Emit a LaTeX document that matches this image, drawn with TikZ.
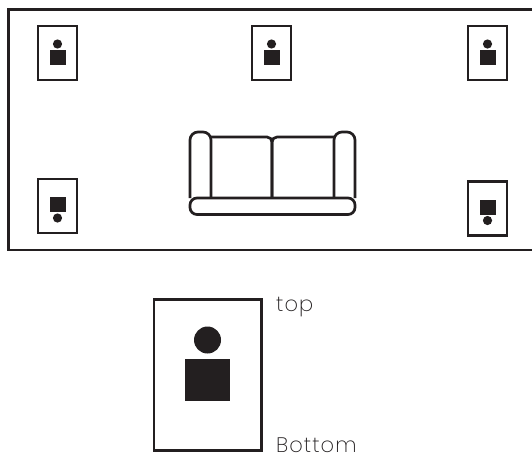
\documentclass[tikz,border=0pt]{standalone}
\usepackage{fontspec}
\usepackage{tikz}
\usetikzlibrary{positioning}
\newfontfamily\labelfont[LetterSpace=5]{Poppins ExtraLight}
\definecolor{darkline}{HTML}{231F20}
\definecolor{softtext}{HTML}{231F20}
\tikzset{
    outline/.style={draw=darkline, line width=2.7pt},
    speakerbox/.style={outline, fill=white, minimum width=39pt, minimum height=54pt, inner sep=0pt},
    labeltext/.style={anchor=base west, inner sep=0pt, text=softtext, font=\labelfont\fontsize{21}{21}\selectfont}
}
\begin{document}
\begin{tikzpicture}[x=1pt, y=-1pt]
\useasboundingbox (0,0) rectangle (532,455);
\fill[white] (0,0) rectangle (532,455);
\draw[outline] (532,9.5) -- (8.5,9.5) -- (8.5,250) -- (532,250);
\foreach \name/\x/\y in {frontleft/57.5/53, frontmid/271.5/53, frontright/487.5/53} {
    \node[speakerbox] (\name) at (\x,\y) {};
    \fill[darkline] (\x,\y-9) circle (4.6);
    \fill[darkline] (\x-8,\y-3) rectangle (\x+8,\y+12);
}
\foreach \name/\x/\y in {rearleft/57.5/206, rearright/487.5/208.5} {
    \node[speakerbox] (\name) at (\x,\y) {};
    \fill[darkline] (\x-8,\y-9) rectangle (\x+8,\y+6);
    \fill[darkline] (\x,\y+12) circle (4.6);
}
\draw[outline, rounded corners=8pt] (190,198) -- (190,132) -- (211,132) -- (211,198);
\draw[outline, rounded corners=8pt] (334,198) -- (334,132) -- (355,132) -- (355,198);
\draw[outline, rounded corners=5pt] (211,137) -- (272,137) -- (272,198);
\draw[outline, rounded corners=5pt] (272,198) -- (272,137) -- (334,137);
\draw[outline, fill=white, rounded corners=7pt] (190,198) rectangle (355,214.5);
\draw[outline] (154,299.5) rectangle (261.5,450.5);
\fill[darkline] (207.5,340) circle (13.5);
\fill[darkline] (185,359) rectangle (230,401);
\node[labeltext] (toplabel) at (276,311) {top};
\node[labeltext] (bottomlabel) at (276,452.5) {Bottom};
\end{tikzpicture}
\end{document}
